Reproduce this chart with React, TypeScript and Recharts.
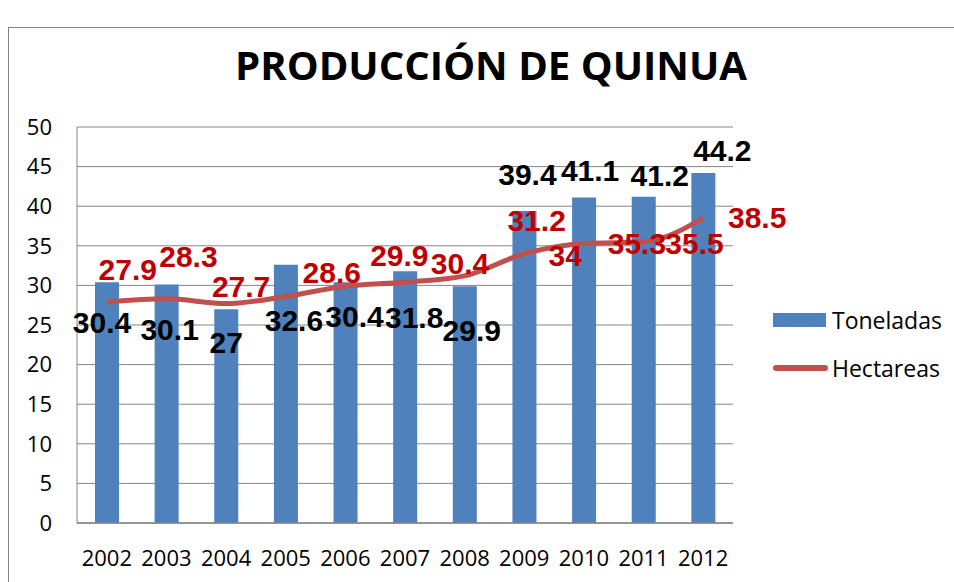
import React from 'react';
import { ComposedChart, Bar, Line, XAxis, YAxis, CartesianGrid, Legend, LabelList } from 'recharts';

const years = ['2002', '2003', '2004', '2005', '2006', '2007', '2008', '2009', '2010', '2011', '2012'];
const toneladas = [30.4, 30.1, 27, 32.6, 30.4, 31.8, 29.9, 39.4, 41.1, 41.2, 44.2];
const hectareas = [27.9, 28.3, 27.7, 28.6, 29.9, 30.4, 31.2, 34, 35.3, 35.5, 38.5];
const yTicks = [0, 5, 10, 15, 20, 25, 30, 35, 40, 45, 50];

// label placement offsets (dx, dy) as in the original, relative to the mark
const barLabelOffsets: [number, number][] = [
  [-5, 40], [3, 45], [0, 33], [8, 56], [9, 34], [9, 46], [7, 44], [3, -36], [6, -27], [16, -21], [19, -22],
];
const lineLabelOffsets: [number, number][] = [
  [21, -33], [22, -42], [15, -17], [46, -24], [54, -31], [55, -19], [72, -55], [41, 2], [53, 0], [51, 2], [54, -1],
];

const data = years.map((year, i) => ({ year, Toneladas: toneladas[i], Hectareas: hectareas[i] }));

const BLUE = '#4F81BD';
const RED = '#C0504D';
const GRID = '#868686';
const AXIS_FONT = "'Open Sans', 'Noto Sans', sans-serif";
const LABEL_FONT = "'Liberation Sans', Arial, sans-serif";

const BarLabel = (props: any) => {
  const { x, y, width, value, index } = props;
  const [dx, dy] = barLabelOffsets[index] || [0, 0];
  return (
    <text
      x={Number(x) + Number(width) / 2 + dx}
      y={Number(y) + dy}
      textAnchor="middle"
      dominantBaseline="central"
      fill="#000000"
      fontFamily={LABEL_FONT}
      fontWeight="bold"
      fontSize={30}
    >
      {value}
    </text>
  );
};

const LineLabel = (props: any) => {
  const { x, y, value, index } = props;
  const [dx, dy] = lineLabelOffsets[index] || [0, 0];
  return (
    <text
      x={Number(x) + dx}
      y={Number(y) + dy}
      textAnchor="middle"
      dominantBaseline="central"
      fill="#C00000"
      fontFamily={LABEL_FONT}
      fontWeight="bold"
      fontSize={30}
    >
      {value}
    </text>
  );
};

const renderLegend = () => (
  <svg width={194} height={100} style={{ display: 'block' }}>
    <rect x={13} y={23} width={53} height={14} fill={BLUE} />
    <text x={72} y={30} dominantBaseline="central" fontFamily={AXIS_FONT} fontSize={23} fill="#000">
      Toneladas
    </text>
    <line x1={16} y1={78} x2={65} y2={78} stroke={RED} strokeWidth={6} strokeLinecap="round" />
    <text x={72} y={78} dominantBaseline="central" fontFamily={AXIS_FONT} fontSize={23} fill="#000">
      Hectareas
    </text>
  </svg>
);

export default function App() {
  return (
    <div style={{ position: 'absolute', left: 0, top: 0, width: 954, height: 582, overflow: 'hidden', background: '#ffffff' }}>
      <div
        style={{
          position: 'absolute',
          left: 8,
          top: 27,
          width: 1000,
          height: 700,
          borderLeft: '1px solid #868686',
          borderTop: '1px solid #868686',
          boxSizing: 'border-box',
        }}
      />
      <svg width={954} height={110} style={{ position: 'absolute', left: 0, top: 0 }}>
        <text
          x={491}
          y={80}
          textAnchor="middle"
          fontFamily="'Open Sans', 'Noto Sans', sans-serif"
          fontWeight="bold"
          fontSize={40}
          textLength={512}
          lengthAdjust="spacingAndGlyphs"
          fill="#000"
        >
          PRODUCCIÓN DE QUINUA
        </text>
      </svg>
      <div style={{ position: 'absolute', left: 0, top: 0 }}>
        <ComposedChart width={954} height={582} data={data} margin={{ top: 127, right: 221, bottom: 0, left: 0 }}>
          <CartesianGrid vertical={false} stroke={GRID} strokeWidth={1} />
          <XAxis
            dataKey="year"
            height={59}
            tickLine={false}
            tickSize={0}
            tickMargin={27}
            axisLine={{ stroke: GRID, strokeWidth: 1.5 }}
            tick={{ fill: '#000', fontSize: 22, fontFamily: AXIS_FONT }}
            interval={0}
          />
          <YAxis
            width={77}
            domain={[0, 50]}
            ticks={yTicks}
            tickLine={false}
            tickSize={0}
            tickMargin={25}
            axisLine={{ stroke: GRID, strokeWidth: 1 }}
            tick={{ fill: '#000', fontSize: 22, fontFamily: AXIS_FONT }}
            interval={0}
          />
          <Legend
            layout="vertical"
            align="center"
            verticalAlign="middle"
            content={renderLegend}
            wrapperStyle={{ left: 760, top: 290, width: 194, height: 100 }}
          />
          <Bar dataKey="Toneladas" fill={BLUE} barSize={24} isAnimationActive={false}>
            <LabelList dataKey="Toneladas" content={BarLabel} />
          </Bar>
          <Line
            dataKey="Hectareas"
            type="monotone"
            stroke={RED}
            strokeWidth={5}
            dot={false}
            activeDot={false}
            isAnimationActive={false}
          >
            <LabelList dataKey="Hectareas" content={LineLabel} />
          </Line>
        </ComposedChart>
      </div>
    </div>
  );
}
